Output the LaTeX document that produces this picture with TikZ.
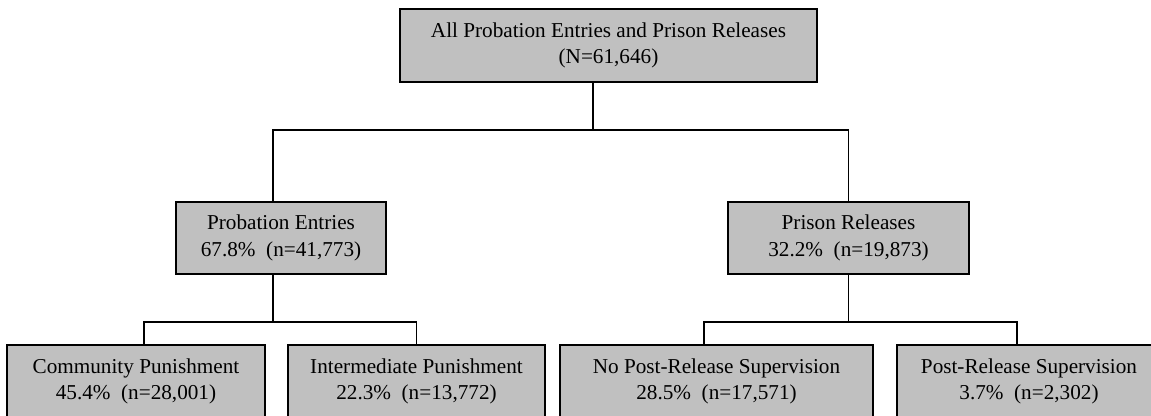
\documentclass[tikz,border=0pt]{standalone}
\usepackage{fontspec}
\setmainfont{Liberation Serif}
\usepackage{xcolor}
\usepackage{tikz}
\definecolor{boxgray}{HTML}{C0C0C0}

\begin{document}
\begin{tikzpicture}[x=0.75pt, y=-0.75pt,
    stagebox/.style={draw=black, line width=1.4pt, fill=boxgray, align=center, inner sep=0pt,
      font=\fontsize{15.9}{19.9}\selectfont},
    link/.style={black, line width=1.4pt}]
  \useasboundingbox (0,0) rectangle (1151,415);
  \clip (0,0) rectangle (1151,415);
  \node[stagebox, minimum width=312.75pt, minimum height=54.75pt] (top) at (608.5,45.5) {All Probation Entries and Prison Releases\\(N=61,646)};
  \node[stagebox, minimum width=157.5pt, minimum height=54pt] (prob) at (281,238) {Probation Entries\\67.8\%\ \ (n=41,773)};
  \node[stagebox, minimum width=180.75pt, minimum height=54pt] (pris) at (848.5,238) {Prison Releases\\32.2\%\ \ (n=19,873)};
  \node[stagebox, minimum width=193.5pt, minimum height=54.75pt] (comm) at (136,381.5) {Community Punishment\\45.4\%\ \ (n=28,001)};
  \node[stagebox, minimum width=192.75pt, minimum height=54.75pt] (inter) at (416.5,381.5) {Intermediate Punishment\\22.3\%\ \ (n=13,772)};
  \node[stagebox, minimum width=234.75pt, minimum height=54.75pt] (nopost) at (716.5,381.5) {No Post-Release Supervision\\28.5\%\ \ (n=17,571)};
  \node[stagebox, minimum width=198pt, minimum height=54.75pt] (post) at (1029,381.5) {Post-Release Supervision\\3.7\%\ \ (n=2,302)};
  \coordinate (busA) at (593,130);
  \coordinate (busB) at (273,322);
  \coordinate (busC) at (848.5,322);
  \draw[link] ([xshift=-11.6pt]top.south) -- (busA);
  \draw[link] ([xshift=-6pt]prob.north) |- (busA) -| (pris.north);
  \draw[link] ([xshift=-6pt]prob.south) -- (busB);
  \draw[link] ([xshift=6pt]comm.north) |- (busB) -| (inter.north);
  \draw[link] (pris.south) -- (busC);
  \draw[link] ([xshift=-9.4pt]nopost.north) |- (busC) -| ([xshift=-9pt]post.north);
\end{tikzpicture}
\end{document}
